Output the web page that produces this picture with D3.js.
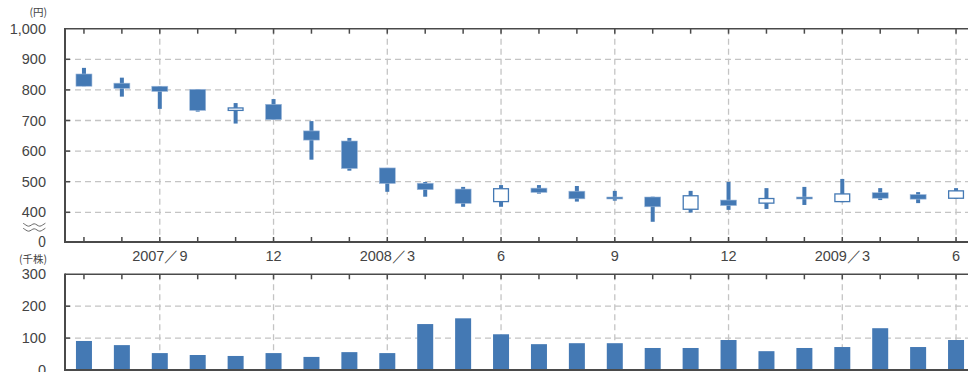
<!DOCTYPE html>
<html><head><meta charset="utf-8">
<script src="https://cdn.jsdelivr.net/npm/d3@7"></script>
<style>
html,body{margin:0;padding:0;background:#fff;}
svg{display:block;font-family:"Noto Sans CJK JP","Noto Sans",sans-serif;}
</style></head>
<body><svg id="c" width="968" height="372"></svg>
<script>
const months = ["2007/7","2007/8","2007/9","2007/10","2007/11","2007/12","2008/1","2008/2","2008/3","2008/4","2008/5","2008/6","2008/7","2008/8","2008/9","2008/10","2008/11","2008/12","2009/1","2009/2","2009/3","2009/4","2009/5","2009/6"];
const open  = [852,822,812,802,731,753,666,633,545,495,476,433,479,469,450,450,408,440,428,450,433,464,458,444];
const high  = [872,840,812,802,757,770,698,643,545,499,483,489,489,486,470,451,470,499,479,483,509,479,466,479];
const low   = [812,778,738,729,690,703,572,536,467,451,418,418,461,435,438,369,399,408,411,424,433,440,430,444];
const close = [812,805,795,733,743,703,636,543,494,474,429,479,465,444,444,418,456,422,447,444,462,446,443,472];
const volume = [91,78,53,47,44,53,41,56,53,144,162,112,81,84,84,69,69,94,59,69,72,131,72,94];
const priceTicks = [400,500,600,700,800,900,1000];
const volTicks = [0,100,200,300];
const quarterLabels = {"2007/9":"2007／9","2007/12":"12","2008/3":"2008／3","2008/6":"6","2008/9":"9","2008/12":"12","2009/3":"2009／3","2009/6":"6"};

const svg = d3.select("#c");
const blue = "#4479b4", axisCol = "#4a4a4a", gridCol = "#c4c4c4", textCol = "#444";
const left = 65, right = 975;
const x = d3.scaleBand().domain(months).range([left, right]).padding(0);
const cx = m => x(m) + x.bandwidth()/2;
const bw = 16;

// top panel
const topY = 28.7, topBottom = 242;
const y = d3.scaleLinear().domain([400,1000]).range([212.3, topY]);
// bottom panel
const vTop = 274.3, vBottom = 370;
const yv = d3.scaleLinear().domain([0,300]).range([vBottom, vTop]);

const g = svg.append("g");
// horizontal grid
g.selectAll(".hg").data(priceTicks.filter(d=>d<1000)).join("line")
  .attr("x1", left).attr("x2", right).attr("y1", d=>y(d)).attr("y2", d=>y(d))
  .attr("stroke", gridCol).attr("stroke-width", 1.3).attr("stroke-dasharray","6,4");
g.selectAll(".hgv").data(volTicks.filter(d=>d>0 && d<300)).join("line")
  .attr("x1", left).attr("x2", right).attr("y1", d=>yv(d)).attr("y2", d=>yv(d))
  .attr("stroke", gridCol).attr("stroke-width", 1.3).attr("stroke-dasharray","6,4");
// vertical grid
const qMonths = months.filter(m => quarterLabels[m]);
g.selectAll(".vg").data(qMonths).join("line")
  .attr("x1", cx).attr("x2", cx).attr("y1", topY).attr("y2", topBottom)
  .attr("stroke", gridCol).attr("stroke-width", 1.3).attr("stroke-dasharray","6,4");
g.selectAll(".vg2").data(qMonths).join("line")
  .attr("x1", cx).attr("x2", cx).attr("y1", vTop).attr("y2", vBottom)
  .attr("stroke", gridCol).attr("stroke-width", 1.3).attr("stroke-dasharray","6,4");

// candles
const c = svg.append("g");
months.forEach((m,i)=>{
  const up = close[i] > open[i];
  c.append("rect").attr("x", cx(m)-2).attr("width", 4)
    .attr("y", y(high[i])).attr("height", Math.max(0, y(low[i]) - y(high[i])))
    .attr("fill", blue);
  const t = y(Math.max(open[i], close[i])), b = y(Math.min(open[i], close[i]));
  if (up) {
    c.append("rect").attr("x", cx(m)-bw/2+0.6).attr("width", bw-1.2)
      .attr("y", t+0.6).attr("height", Math.max(1, b-t-1.2))
      .attr("fill", "#fff").attr("stroke", blue).attr("stroke-width", 1.3);
  } else {
    c.append("rect").attr("x", cx(m)-bw/2).attr("width", bw)
      .attr("y", t).attr("height", Math.max(2, b-t))
      .attr("fill", blue).attr("stroke", "#9fbadb").attr("stroke-width", 0.6);
  }
});

// volume bars
svg.append("g").selectAll("rect").data(months).join("rect")
  .attr("x", m => cx(m)-bw/2).attr("width", bw)
  .attr("y", (m,i)=>yv(volume[i])).attr("height", (m,i)=>vBottom - yv(volume[i]))
  .attr("fill", blue);

// axes frames
const ax = svg.append("g").attr("stroke", axisCol).attr("fill","none");
ax.append("line").attr("x1", left).attr("x2", right).attr("y1", topY).attr("y2", topY).attr("stroke-width",1.5);
ax.append("line").attr("x1", left).attr("x2", right).attr("y1", topBottom).attr("y2", topBottom).attr("stroke-width",2);
ax.append("line").attr("x1", left).attr("x2", left).attr("y1", topY-0.7).attr("y2", topBottom+1).attr("stroke-width",2);
ax.append("line").attr("x1", left).attr("x2", right).attr("y1", vTop).attr("y2", vTop).attr("stroke-width",1.5);
ax.append("line").attr("x1", left).attr("x2", right).attr("y1", vBottom).attr("y2", vBottom).attr("stroke-width",2);
ax.append("line").attr("x1", left).attr("x2", left).attr("y1", vTop-0.7).attr("y2", vBottom+1).attr("stroke-width",2);
// month ticks
ax.selectAll(".t1").data(months).join("line").attr("x1",cx).attr("x2",cx).attr("y1",topY).attr("y2",topY+5).attr("stroke-width",1.5);
ax.selectAll(".t2").data(months).join("line").attr("x1",cx).attr("x2",cx).attr("y1",topBottom-5).attr("y2",topBottom).attr("stroke-width",1.5);
ax.selectAll(".t3").data(months).join("line").attr("x1",cx).attr("x2",cx).attr("y1",vTop).attr("y2",vTop+5).attr("stroke-width",1.5);
// left ticks
ax.selectAll(".t4").data(priceTicks.filter(d=>d<1000)).join("line").attr("x1",left).attr("x2",left+5).attr("y1",d=>y(d)).attr("y2",d=>y(d)).attr("stroke-width",1.5);
ax.selectAll(".t5").data(volTicks.filter(d=>d>0&&d<300)).join("line").attr("x1",left).attr("x2",left+5).attr("y1",d=>yv(d)).attr("y2",d=>yv(d)).attr("stroke-width",1.5);

// axis labels via d3 axes
const fs = "14.5px";
const ya = svg.append("g").attr("transform",`translate(${left},0)`)
  .call(d3.axisLeft(y).tickValues(priceTicks).tickFormat(d3.format(",")).tickSize(0).tickPadding(19));
ya.select(".domain").remove();
ya.selectAll("text").attr("fill", textCol).style("font-size", fs);
// zero label for broken axis
svg.append("text").attr("x", left-19).attr("y", topBottom).attr("dy","0.35em").attr("text-anchor","end")
  .attr("fill", textCol).style("font-size", fs).text("0");
// break mark
const wave = d3.line().curve(d3.curveBasis);
[0,5].forEach(o=>{
  const pts = [];
  for (let k=0;k<=8;k++) pts.push([23 + k*2.8, 225 + o + (k%2===0? (k%4===0?-1.8:1.8):0)]);
  svg.append("path").attr("d", wave(pts)).attr("fill","none").attr("stroke", "#666").attr("stroke-width",1);
});

const va = svg.append("g").attr("transform",`translate(${left},0)`)
  .call(d3.axisLeft(yv).tickValues(volTicks).tickFormat(d3.format("d")).tickSize(0).tickPadding(19));
va.select(".domain").remove();
va.selectAll("text").attr("fill", textCol).style("font-size", fs);

const xa = svg.append("g").attr("transform",`translate(0,${topBottom})`)
  .call(d3.axisBottom(x).tickValues(qMonths).tickFormat(m=>quarterLabels[m]).tickSize(0).tickPadding(9));
xa.select(".domain").remove();
xa.selectAll("text").attr("fill", textCol).style("font-size", fs);

// units
svg.append("text").attr("x", 47).attr("y", 16).attr("text-anchor","end").attr("fill", textCol).style("font-size","10.5px").text("(円)");
svg.append("text").attr("x", 47).attr("y", 263).attr("text-anchor","end").attr("fill", textCol).style("font-size","10.5px").text("(千株)");
</script></body></html>
